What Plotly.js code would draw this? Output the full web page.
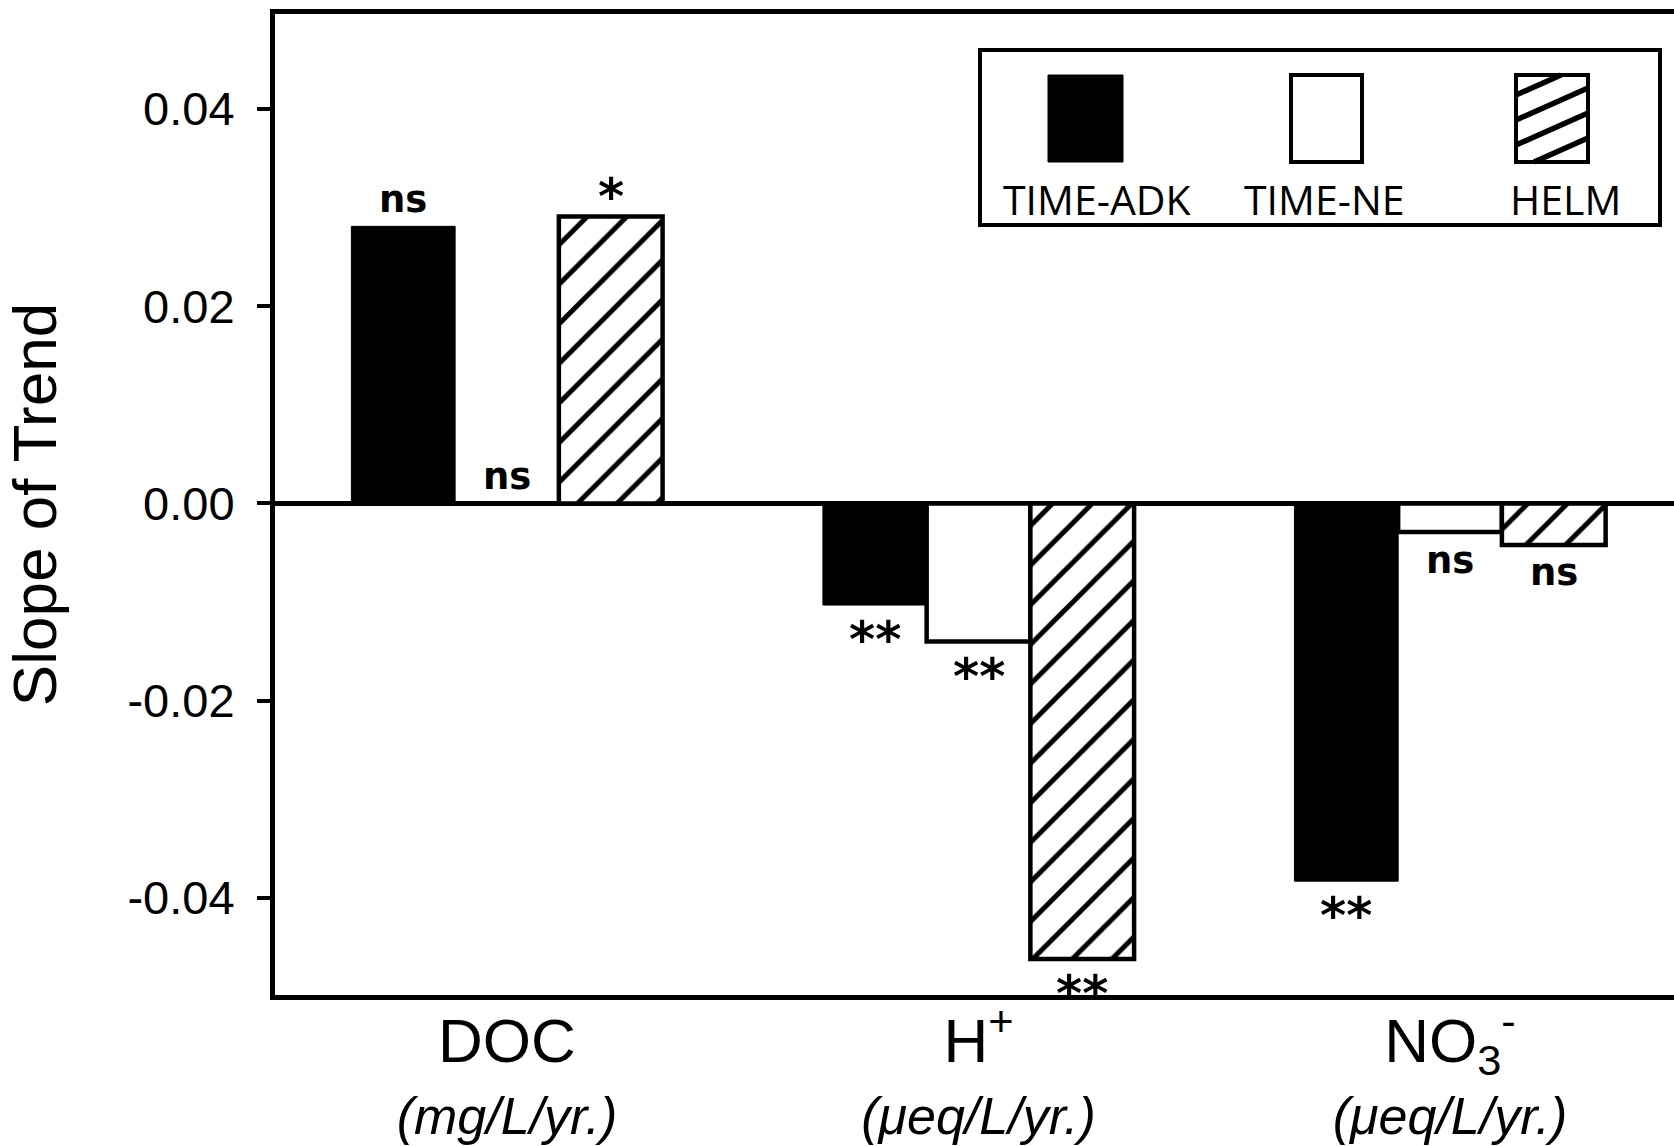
<!DOCTYPE html>
<html><head><meta charset="utf-8">
<script src="https://cdn.plot.ly/plotly-3.0.1.min.js"></script>
<style>html,body{margin:0;padding:0;background:#fff;}#chart{width:1674px;height:1146px;}</style>
</head><body><div id="chart"></div>
<script>
// ---- data ----
const categories = ['DOC', 'H+', 'NO3-'];
const categoryLabels = ['DOC', 'H<sup>+</sup>', 'NO<sub>3</sub><sup>-</sup>'];
const unitLabels = ['(mg/L/yr.)', '(μeq/L/yr.)', '(μeq/L/yr.)'];
const seriesNames = ['TIME-ADK', 'TIME-NE', 'HELM'];
const adkValues = [0.0281, -0.0103, -0.0383];
const neValues = [0.0000, -0.0140, -0.0029];
const helmValues = [0.0291, -0.0462, -0.0042];
const adkSig = ['ns', '**', '**'];
const neSig = ['ns', '**', 'ns'];
const helmSig = ['*', '**', 'ns'];
const yTickVals = [-0.04, -0.02, 0.00, 0.02, 0.04];
const yTitle = 'Slope of Trend';

// ---- geometry helpers (pixel -> paper) ----
const W = 1674, H = 1146;
const M = {l: 275, r: 0, t: 14, b: 151};
const plotW = W - M.l - M.r, plotH = H - M.t - M.b;
const px = x => (x - M.l) / plotW;
const py = y => (H - M.b - y) / plotH;

const xIdx = categories.map((c, i) => i);
const barW = 0.22;

const black = '#000000';
const traces = [
  {type: 'bar', name: seriesNames[0], x: xIdx, y: adkValues,
   marker: {color: black, line: {color: black, width: 1}}},
  {type: 'bar', name: seriesNames[1], x: xIdx, y: neValues,
   marker: {color: '#ffffff', line: {color: black, width: 4.5}}},
  {type: 'bar', name: seriesNames[2], x: xIdx, y: helmValues,
   marker: {color: '#ffffff', line: {color: black, width: 4.5},
            pattern: {shape: '/', fgcolor: black, bgcolor: '#ffffff', size: 28, solidity: 0.18}}}
];

function sigAnnotations(values, sig, offset) {
  return values.map((v, i) => {
    const ast = sig[i].indexOf('*') >= 0;
    const sign = v >= 0 ? 1 : -1;
    let shift;
    if (ast) shift = sign > 0 ? 19 : -35;
    else shift = sign > 0 ? 27 : -28;
    return {
      x: i + offset, y: v, xref: 'x', yref: 'y', text: '<b>' + sig[i] + '</b>',
      showarrow: false, xanchor: 'center', yanchor: 'middle',
      yshift: shift,
      font: {family: 'DejaVu Sans', size: ast ? 50 : 37, color: black}
    };
  });
}

let annotations = []
  .concat(sigAnnotations(adkValues, adkSig, -barW))
  .concat(sigAnnotations(neValues, neSig, 0))
  .concat(sigAnnotations(helmValues, helmSig, barW));

// ---- custom legend (decoration) ----
const legBox = {x0: 980, y0: 50, x1: 1660, y1: 225};
const swatches = [
  {x0: 1048, x1: 1123, cx: 1097},
  {x0: 1291, x1: 1362, cx: 1324},
  {x0: 1516, x1: 1588, cx: 1565}
];
const swT = 75, swB = 162, textY = 199;
const shapes = [];
shapes.push({type: 'rect', xref: 'paper', yref: 'paper',
  x0: px(legBox.x0), x1: px(legBox.x1), y0: py(legBox.y1), y1: py(legBox.y0),
  line: {color: black, width: 4}, fillcolor: '#ffffff', layer: 'above'});
shapes.push({type: 'rect', xref: 'paper', yref: 'paper',
  x0: px(swatches[0].x0), x1: px(swatches[0].x1), y0: py(swB), y1: py(swT),
  line: {color: black, width: 1}, fillcolor: black});
shapes.push({type: 'rect', xref: 'paper', yref: 'paper',
  x0: px(swatches[1].x0), x1: px(swatches[1].x1), y0: py(swB), y1: py(swT),
  line: {color: black, width: 4}, fillcolor: '#ffffff'});
shapes.push({type: 'rect', xref: 'paper', yref: 'paper',
  x0: px(swatches[2].x0), x1: px(swatches[2].x1), y0: py(swB), y1: py(swT),
  line: {color: black, width: 4}, fillcolor: '#ffffff'});
// hatch stripes inside HELM swatch
(function () {
  const L = swatches[2].x0, R = swatches[2].x1, rise = 32, step = 25;
  for (let c = swT + 20; c < swB + rise + step; c += step) {
    let xa = L, ya = c, xb = R, yb = c - rise;
    if (ya > swB) { xa = L + (ya - swB) / rise * (R - L); ya = swB; }
    if (yb < swT) { xb = L + (c - swT) / rise * (R - L); yb = swT; }
    if (xa >= R || xb <= L || xa >= xb) continue;
    shapes.push({type: 'line', xref: 'paper', yref: 'paper',
      x0: px(xa), y0: py(ya), x1: px(xb), y1: py(yb), line: {color: black, width: 5.5}});
  }
})();
seriesNames.forEach((n, i) => {
  annotations.push({xref: 'paper', yref: 'paper', x: px(swatches[i].cx), y: py(textY),
    text: n, showarrow: false, xanchor: 'center', yanchor: 'middle',
    font: {family: 'Open Sans', size: 41, color: black}});
});

const tickText = categoryLabels.map((c, i) =>
  '<span style="font-size:62px">' + c + '</span><br><i><span style="font-size:52px">' + unitLabels[i] + '</span></i>');

const layout = {
  width: W, height: H,
  margin: {l: M.l, r: M.r, t: M.t, b: M.b, pad: 0},
  paper_bgcolor: '#ffffff', plot_bgcolor: '#ffffff',
  barmode: 'group', bargap: 0.34, bargroupgap: 0,
  showlegend: false,
  font: {family: 'Liberation Sans, Arial, sans-serif', color: black},
  xaxis: {
    type: 'linear', range: [-0.492, 2.475], tickvals: xIdx, ticktext: tickText,
    showline: true, mirror: true, linewidth: 5, linecolor: black,
    ticks: '', showgrid: false, zeroline: false,
    tickfont: {family: 'Liberation Sans', size: 55, color: black},
    ticklabelstandoff: -4, fixedrange: true
  },
  yaxis: {
    range: [-0.04984, 0.04963], tickvals: yTickVals, ticktext: yTickVals.map(v => v.toFixed(2)),
    ticks: 'outside', ticklen: 13, tickwidth: 4, tickcolor: black,
    showline: true, mirror: false, linewidth: 5, linecolor: black,
    showgrid: false, zeroline: true, zerolinewidth: 5, zerolinecolor: black,
    tickfont: {family: 'Liberation Sans', size: 47, color: black},
    ticklabelstandoff: 13,
    title: {text: yTitle, font: {family: 'Liberation Sans', size: 62, color: black}, standoff: 52}
  },
  shapes: shapes,
  annotations: annotations
};

Plotly.newPlot('chart', traces, layout, {staticPlot: true, displayModeBar: false});
</script>
</body></html>
